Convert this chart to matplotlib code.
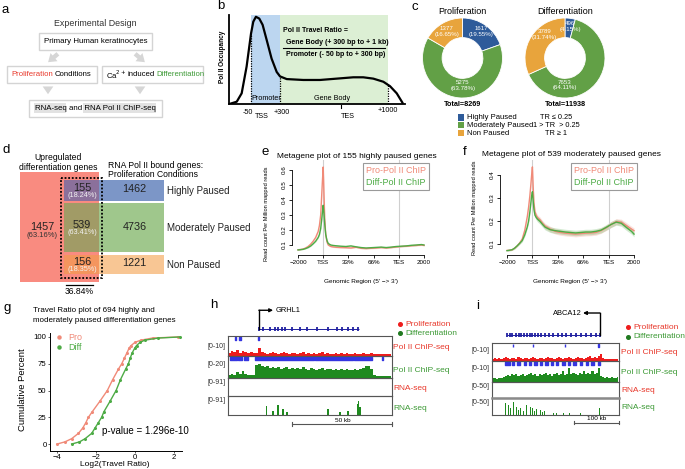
import numpy as np
import matplotlib
matplotlib.use('Agg')
import matplotlib.pyplot as plt
from matplotlib.patches import Rectangle, FancyArrowPatch

plt.rcParams['font.family'] = ['Liberation Sans', 'DejaVu Sans']

# ---------------- data ----------------
# b: schematic Pol II occupancy along a gene (arbitrary units)
occ_pos = [0.2, 4.4, 7.2, 10.0, 12.5, 13.8, 15.3, 17.2, 19.1, 21.4, 24.2, 27.1, 29.0,
           32.8, 42.2, 51.7, 61.2, 70.6, 76.3, 82.0, 87.7, 91.5, 95.3, 98.7]
occ_val = [0.0, 0.026, 0.12, 0.42, 0.79, 0.925, 0.98, 0.96, 0.89, 0.72, 0.51, 0.36, 0.31,
           0.28, 0.27, 0.27, 0.285, 0.30, 0.30, 0.285, 0.25, 0.20, 0.12, 0.01]
promoter = (12.5, 29.0)
gene_body = (29.0, 90.3)

# c: pausing classes
pause_classes = ['Highly Paused', 'Moderately Paused', 'Non Paused']
tr_rules = ['TR \u2264 0.25', '1 > TR  > 0.25', 'TR \u2265 1']
pro_counts = [1617, 5275, 1377]
pro_pct = ['19.55%', '63.78%', '16.65%']
diff_counts = [496, 7653, 3789]
diff_pct = ['4.15%', '64.11%', '31.74%']

# d: overlap of upregulated genes with Pol II bound genes
up_only = 1457
up_only_pct = '63.16%'
overlap_counts = [155, 539, 156]
overlap_pct = ['18.24%', '63.41%', '18.35%']
bound_counts = [1462, 4736, 1221]
overlap_share = '36.84%'

# e/f: metagene profiles (x: 0=-2000, 1=TSS, 2=33%, 3=66%, 4=TES, 5=+2000)
meta_labels = ['\u22122000', 'TSS', '33%', '66%', 'TES', '2000']
meta_x = [0, 0.1, 0.2, 0.3, 0.4, 0.5, 0.6, 0.7, 0.8, 0.85, 0.9, 0.94, 0.97, 1.0, 1.03,
          1.06, 1.1, 1.15, 1.2, 1.3, 1.4, 1.5, 1.7, 1.9, 2.1, 2.3, 2.5, 2.7, 2.9, 3.1,
          3.3, 3.5, 3.7, 3.9, 4.1, 4.3, 4.5, 4.7, 4.9, 5.0]
e_pro = [0.068, 0.07, 0.073, 0.08, 0.09, 0.105, 0.125, 0.15, 0.19, 0.23, 0.3, 0.43, 0.53,
         0.62, 0.45, 0.28, 0.17, 0.12, 0.1, 0.09, 0.087, 0.085, 0.083, 0.082, 0.08, 0.085,
         0.078, 0.076, 0.078, 0.08, 0.083, 0.08, 0.083, 0.087, 0.09, 0.092, 0.095, 0.097,
         0.1, 0.097]
e_diff = [0.067, 0.069, 0.071, 0.076, 0.083, 0.093, 0.108, 0.125, 0.15, 0.17, 0.21, 0.27,
          0.32, 0.365, 0.31, 0.24, 0.17, 0.13, 0.11, 0.1, 0.097, 0.095, 0.092, 0.09, 0.094,
          0.088, 0.083, 0.08, 0.082, 0.084, 0.086, 0.083, 0.086, 0.09, 0.092, 0.094, 0.098,
          0.1, 0.103, 0.1]
e_band = [0.002, 0.002, 0.002, 0.002, 0.003, 0.003, 0.004, 0.005, 0.006, 0.008, 0.01,
          0.014, 0.018, 0.02, 0.016, 0.01, 0.007, 0.005, 0.004, 0.004, 0.004, 0.004, 0.004,
          0.004, 0.004, 0.004, 0.004, 0.004, 0.004, 0.004, 0.004, 0.004, 0.004, 0.004,
          0.004, 0.004, 0.004, 0.004, 0.004, 0.004]
f_pro = [0.072, 0.073, 0.075, 0.082, 0.092, 0.105, 0.122, 0.16, 0.22, 0.26, 0.31, 0.36, 0.4,
         0.435, 0.35, 0.28, 0.24, 0.225, 0.215, 0.205, 0.19, 0.178, 0.165, 0.155, 0.15,
         0.147, 0.145, 0.143, 0.145, 0.147, 0.148, 0.15, 0.158, 0.17, 0.185, 0.197, 0.195,
         0.18, 0.165, 0.158]
f_diff = [0.071, 0.073, 0.075, 0.082, 0.092, 0.103, 0.115, 0.14, 0.175, 0.2, 0.24, 0.28,
          0.31, 0.327, 0.29, 0.25, 0.225, 0.215, 0.208, 0.198, 0.185, 0.173, 0.162, 0.158,
          0.155, 0.152, 0.15, 0.148, 0.15, 0.152, 0.152, 0.155, 0.16, 0.172, 0.185, 0.195,
          0.19, 0.172, 0.155, 0.143]
f_band = [0.003, 0.003, 0.003, 0.004, 0.004, 0.005, 0.006, 0.007, 0.008, 0.009, 0.01,
          0.01, 0.01, 0.01, 0.01, 0.01, 0.01, 0.011, 0.012, 0.012, 0.012, 0.012, 0.012,
          0.012, 0.012, 0.012, 0.012, 0.012, 0.012, 0.012, 0.012, 0.012, 0.012, 0.012,
          0.013, 0.013, 0.013, 0.013, 0.012, 0.012]

# g: cumulative travel ratio distribution
cum_pct = [0, 2, 5, 10, 15, 20, 25, 30, 40, 50, 60, 70, 75, 80, 85, 90, 92, 95, 97, 99, 100]
tr_pro = [-4.0, -3.6, -3.25, -2.9, -2.68, -2.52, -2.39, -2.2, -1.8, -1.42, -1.15, -0.85,
          -0.68, -0.55, -0.42, -0.29, -0.2, 0.0, 0.3, 0.9, 2.2]
tr_diff = [-3.25, -2.85, -2.56, -2.22, -2.05, -1.88, -1.71, -1.6, -1.28, -0.97, -0.75,
           -0.48, -0.34, -0.25, -0.15, 0.0, 0.08, 0.26, 0.5, 1.2, 2.3]
p_value = '1.296e-10'

# h: GRHL1 browser tracks (60 bins)
h_pro_chip = [1.5, 2.5, 1.8, 3, 1.5, 2.5, 2, 1.5, 2, 1.5, 1.5, 4, 2, 1.5, 1, 1.5, 2, 1.5,
              1, 1.5, 2, 1.5, 1, 1.5, 1.5, 1, 1.5, 2, 1, 1.5, 1, 1.5, 1, 1.5, 2, 1, 1.5, 1,
              1, 1.5, 1, 1.5, 1, 1.5, 1, 1, 1.5, 1, 1, 1.5, 1, 1, 1.5, 1, 1, 0.8, 1, 0.8,
              1, 0.8]
h_diff_chip = [3, 4, 3, 5, 4, 6, 4, 3, 3, 3, 12, 13, 11, 10, 11, 9, 10, 9, 10, 8, 9, 10, 8,
               9, 8, 9, 8, 10, 8, 7, 9, 8, 7, 8, 9, 7, 8, 8, 7, 8, 7, 8, 7, 8, 7, 7, 8, 7, 8,
               9, 11, 11, 8, 3, 2, 2, 1.5, 2, 1.5, 2]
h_rna_pos = [14, 16.5, 18.3, 20.1, 21.6, 36.6, 41, 43.9, 47.3, 47.8, 48.3]
h_rna_val = [41, 20, 50, 30, 14, 27, 14, 18, 55, 68, 40]
h_marks_top = [2.6, 4.4, 11.3]
h_marks_diff = [(0.7, 2.6), (3.7, 1.4), (5.9, 1.4), (9.9, 21.6), (31.8, 13.9),
                (46.0, 6.7), (56.3, 0.3)]
h_exons = [11.3, 12.8, 15.4, 17.2, 18.3, 19.8, 20.9, 23.4, 26.3, 28.9, 32.6, 36.6, 39.9,
           41.7, 43.9, 45.7, 47.6]
h_gene = (11.3, 48.0)

# i: ABCA12 browser tracks (60 bins)
i_pro_chip = [1.2, 1.5, 1.2, 1.6, 1.2, 1.5, 2, 1.5, 1.2, 1.5, 1.6, 1.2, 2, 1.5, 1.2, 1.5,
              1.6, 1.2, 1.5, 2, 1.5, 1.2, 1.5, 1.6, 1.2, 1.5, 2, 1.5, 1.6, 1.2, 1.5, 2, 1.5,
              1.2, 1.5, 1.6, 2, 1.5, 1.2, 1.5, 2, 1.5, 1.6, 1.2, 1.5, 2, 2.5, 1.5, 2, 1.5,
              2.5, 4, 1.5, 1.2, 1.2, 1, 1.2, 1, 1.2, 1]
i_diff_chip = [2, 2, 1.5, 2, 2, 2.5, 3, 3.5, 3, 4, 3.5, 4, 3, 3.5, 4, 3, 3.5, 4, 4.5, 3.5,
               4, 3, 4, 3.5, 4, 4.5, 3.5, 4, 3, 4, 4.5, 3.5, 4, 5, 3.5, 4, 6.5, 4, 4.5, 4,
               3.5, 4.5, 4, 5, 4, 4.5, 4, 5, 4, 4.5, 6.5, 3, 2.5, 2, 2.5, 2, 2.5, 2, 2, 2.5]
i_rna_pos = [6.6, 7.7, 8.6, 10.0, 11.6, 12.4, 13.5, 15.0, 16.4, 18.0, 19.2, 20.2, 21.1,
             22.7, 24.0, 25.0, 27.4, 29.0, 30.6, 33.7, 36.8, 41.6, 46.3, 50.7]
i_rna_val = [34, 30, 20, 37, 25, 15, 20, 12, 30, 25, 20, 12, 17, 15, 8, 12, 10, 6, 7, 5, 7,
             5, 4, 22]
i_pro_rna_pos = [8, 14, 20]
i_pro_rna_val = [1.5, 1.5, 1.5]
i_marks_top = [9.9, 19.4, 34.5, 50.5]
i_marks_diff = [(6, 2.5), (9.5, 1), (11.8, 1.5), (15, 1), (17.5, 1), (19.8, 1.5), (22.7, 1),
                (25, 1.5), (27.9, 1), (30.2, 1), (33, 1.5), (35.9, 1), (38.3, 1.5),
                (41.6, 1), (44.4, 1), (46.8, 1.5), (50, 1)]
i_exons = [7.1, 8.5, 9.4, 11.3, 12.8, 13.7, 15.1, 16.5, 17.9, 18.9, 20.3, 21.7, 23.1, 25.0,
           26.9, 28.8, 31.2, 33.0, 34.9, 37.3, 39.7, 42.0, 44.4, 46.8, 49.1, 51.0]
i_gene = (7.1, 51.0)

# colours
RED = '#e8382b'
GREEN = '#3d9a36'
PRO_C = '#f08a78'
DIFF_C = '#4dab45'
pause_colors = ['#2e5b9a', '#62a046', '#e8a43c']

# ---------------- layout helpers (pixel coordinates, origin top-left) ----------------
W, H = 685, 469
fig = plt.figure(figsize=(W / 100, H / 100), dpi=100)
renderer = fig.canvas.get_renderer()


def px_axes(x0, y0, x1, y1):
    ax = fig.add_axes([x0 / W, 1 - y1 / H, (x1 - x0) / W, (y1 - y0) / H])
    ax.patch.set_alpha(0)
    return ax


ov = fig.add_axes([0, 0, 1, 1], zorder=10)
ov.set_xlim(0, W)
ov.set_ylim(H, 0)
ov.axis('off')
ov.patch.set_alpha(0)


def txt(x, y, s, size=6, **kw):
    kw.setdefault('ha', 'center')
    kw.setdefault('va', 'center')
    return ov.text(x, y, s, fontsize=size, **kw)


def chain(x, y, parts, size):
    # place coloured pieces of one line one after another
    for s, c in parts:
        t = txt(x, y, s, size, ha='left', color=c)
        bb = t.get_window_extent(renderer)
        x = ov.transData.inverted().transform((bb.x1, bb.y0))[0] + 1.4


def box(x0, y0, x1, y1, ec='#d4d4d4', fc='white', lw=1.0, **kw):
    ov.add_patch(Rectangle((x0, y0), x1 - x0, y1 - y0, ec=ec, fc=fc, lw=lw, **kw))


def fat_arrow(x0, y0, x1, y1):
    ov.add_patch(FancyArrowPatch(
        (x0, y0), (x1, y1), arrowstyle='simple,head_width=1.1,head_length=0.8,tail_width=0.45',
        mutation_scale=7, color='#d6d6d6', lw=0))


for lab, x, y in [('a', 2, 10), ('b', 217, 6), ('c', 412, 7), ('d', 3, 150), ('e', 262, 152),
                  ('f', 463, 152), ('g', 4, 308), ('h', 210, 305), ('i', 476, 306)]:
    txt(x, y, lab, size=9.5, ha='left')

# ---------------- a ----------------
txt(95, 23, 'Experimental Design', 6.4, color='#333333')
box(39, 33, 152, 50)
txt(95.5, 41.5, 'Primary Human keratinocytes', 5.7)
fat_arrow(60, 52, 46, 64)
fat_arrow(133, 52, 147, 64)
box(7, 66, 97, 83)
chain(11, 74.5, [('Proliferation', RED), ('Conditions', 'black')], 5.6)
box(102, 66, 203, 83)
chain(106, 74.5, [('Ca$^{2+}$', 'black'), ('induced', 'black'), ('Differentiation', GREEN)],
      5.6)
fat_arrow(48, 84, 48, 97)
fat_arrow(140, 84, 140, 97)
box(29, 100, 162, 117)
ov.add_patch(Rectangle((34, 103.5), 32, 10, fc='#e2e2e2', ec='none'))
ov.add_patch(Rectangle((83, 103.5), 73, 10, fc='#e2e2e2', ec='none'))
txt(35, 108.5, 'RNA-seq and RNA Pol II ChIP-seq', 5.7, ha='left')

# ---------------- b ----------------
axb = px_axes(229, 15, 405, 104)
axb.axvspan(*promoter, color='#bcd6f0', lw=0)
axb.axvspan(*gene_body, color='#dcefd4', lw=0)
axb.plot(occ_pos, occ_val, color='black', lw=1.6, solid_capstyle='round')
axb.vlines([promoter[0]], 0, 0.79, color='black', lw=0.9, linestyles=(0, (1, 1)))
axb.vlines([promoter[1]], 0, 0.31, color='black', lw=0.9, linestyles=(0, (1, 1)))
axb.vlines([gene_body[1]], 0, 0.21, color='black', lw=0.9, linestyles=(0, (1, 1)))
axb.set_xlim(0, 100)
axb.set_ylim(0, 1)
axb.set_xticks([])
axb.set_yticks([])
for s in ['top', 'right']:
    axb.spines[s].set_visible(False)
for s in ['left', 'bottom']:
    axb.spines[s].set_linewidth(1.3)
txt(223, 57, 'Pol II Occupancy', 4.7, rotation=90, weight='bold')
txt(266, 98, 'Promoter', 5.2)
txt(332, 98, 'Gene Body', 5.2)
txt(248, 112, '-50', 5.2)
txt(262, 117, 'TSS', 5.2)
txt(282, 112, '+300', 5.2)
txt(348, 117, 'TES', 5.2)
ov.plot([341, 341], [105, 108.5], color='black', lw=0.8)
txt(388, 110, '+1000', 5.2)
txt(283, 30, 'Pol II Travel Ratio =', 5, ha='left', weight='bold')
txt(286, 43, 'Gene Body (+ 300 bp to + 1 kb)', 5, ha='left', weight='bold')
ov.plot([283, 385], [48.5, 48.5], color='black', lw=0.8)
txt(286, 55, 'Promoter (- 50 bp to + 300 bp)', 5, ha='left', weight='bold')

# ---------------- c ----------------
donuts = [
    (462.5, 'Proliferation', pro_counts, pro_pct,
     [(481.5, 31.5), (462.7, 85.5), (446.7, 31.5)]),
    (565, 'Differentiation', diff_counts, diff_pct,
     [(570, 26.5), (565, 85), (544.3, 34.5)]),
]
for cx, title, counts, pcts, lpos in donuts:
    ax = px_axes(cx - 40, 18, cx + 40, 98)
    ax.pie(counts, colors=pause_colors, startangle=90, counterclock=False,
           wedgeprops=dict(width=0.49, edgecolor='white', linewidth=0.6))
    ax.set_xlim(-1, 1)
    ax.set_ylim(-1, 1)
    txt(cx, 12, title, 6.5)
    txt(cx, 105, 'Total=%d' % sum(counts), 5.2, weight='bold')
    for (lx, ly), n, p in zip(lpos, counts, pcts):
        txt(lx, ly, '%d\n(%s)' % (n, p), 4.4, color='white', linespacing=1.1)

for k, (cls, rule) in enumerate(zip(pause_classes, tr_rules)):
    y = 117.5 + 7.8 * k
    ov.add_patch(Rectangle((458, y - 3.3), 6.5, 6.5, fc=pause_colors[k], ec='none'))
    txt(467, y, cls, 5.5, ha='left')
    txt(556, y, rule, 5.3)

# ---------------- d ----------------
txt(58, 157, 'Upregulated', 6.2)
txt(58, 167, 'differentiation genes', 6.2)
txt(108, 165, 'RNA Pol II bound genes:', 6.2, ha='left')
txt(108, 174.5, 'Proliferation Conditions', 6.2, ha='left')
box(20, 172, 99.5, 282, ec='none', fc='#f98b80')
rows = [(180, 201.5), (203.5, 252.5), (255, 274.5)]
box_colors = ['#7c96c7', '#9fc78c', '#f8c694']
overlap_colors = ['#8b709b', '#a19b66', '#f4955e']
for k, (y0, y1) in enumerate(rows):
    box(64, y0, 164.5, y1, ec='none', fc=box_colors[k])
    box(64, y0, 99.5, y1, ec='none', fc=overlap_colors[k])
    yc = (y0 + y1) / 2
    txt(82, yc - 3, str(overlap_counts[k]), 7.8, color='#222222')
    txt(82, yc + 4.5, '(%s)' % overlap_pct[k], 5.2, color='#f2f2f2')
    txt(134.5, yc - 1.5, str(bound_counts[k]), 7.8, color='#222222')
    txt(167, yc, pause_classes[k], 7, ha='left', color='#222222')
txt(42, 226.5, str(up_only), 7.8, color='#222222')
txt(42, 235.5, '(%s)' % up_only_pct, 5.5, color='#333333')
box(61, 178.5, 102, 278.5, ec='black', fc='none', lw=1.3, ls=(0, (1, 1)))
ov.plot([66, 93], [285, 285], color='black', lw=0.9)
txt(79.5, 292, overlap_share, 6.2)


# ---------------- e / f ----------------
def metagene(ax, pro, diff, band, ylim, yticks, xlim):
    x = np.array(meta_x)
    pro, diff, band = np.array(pro), np.array(diff), np.array(band)
    ax.axvline(1, color='#cfcfcf', lw=0.8)
    ax.axvline(4, color='#cfcfcf', lw=0.8)
    ax.fill_between(x, pro - band, pro + band, color=PRO_C, alpha=0.25, lw=0)
    ax.fill_between(x, diff - band, diff + band, color=DIFF_C, alpha=0.25, lw=0)
    ax.plot(x, pro, color=PRO_C, lw=1.0, label='Pro-Pol II ChIP')
    ax.plot(x, diff, color=DIFF_C, lw=1.0, label='Diff-Pol II ChIP')
    ax.set_xlim(*xlim)
    ax.set_ylim(*ylim)
    ax.set_xticks(range(6))
    ax.set_xticklabels(meta_labels)
    ax.set_yticks(yticks)
    ax.set_yticklabels(['%.1f' % v for v in yticks], rotation=90, va='center')
    ax.tick_params(labelsize=4.5, length=2.2, width=0.6, pad=1.5)
    for s in ['top', 'right']:
        ax.spines[s].set_visible(False)
    for s in ['left', 'bottom']:
        ax.spines[s].set_linewidth(0.6)
    ax.spines['left'].set_bounds(yticks[0], yticks[-1])
    ax.spines['bottom'].set_bounds(0, 5)
    leg = ax.legend(loc='upper right', fontsize=6.5, handlelength=0, handletextpad=0,
                    labelcolor='linecolor', fancybox=False, framealpha=1,
                    edgecolor='#9a9a9a', borderpad=0.35, borderaxespad=0.35,
                    labelspacing=0.25)
    leg.get_frame().set_linewidth(0.8)
    for h in leg.legend_handles:
        h.set_visible(False)


axe = px_axes(292, 160, 432, 255)
metagene(axe, e_pro, e_diff, e_band, (0.0333, 0.6667), [0.1, 0.2, 0.3, 0.4, 0.5, 0.6],
         (-0.238, 5.317))
txt(356.5, 156, 'Metagene plot of 155 highly paused genes', 6)
txt(267, 214, 'Read count Per Million mapped reads', 4.1, rotation=90)
txt(361, 281, "Genomic Region (5' \u2212> 3')", 4.6)

axf = px_axes(500, 160, 640, 255)
metagene(axf, f_pro, f_diff, f_band, (0.0522, 0.465), [0.1, 0.2, 0.3, 0.4],
         (-0.276, 5.236))
txt(571, 155, 'Metagene plot of 539 moderately paused genes', 6)
txt(475, 208, 'Read count Per Million mapped reads', 4.1, rotation=90)
txt(570, 281, "Genomic Region (5' \u2212> 3')", 4.6)

# ---------------- g ----------------
axg = px_axes(50, 333, 182, 451)
axg.plot(tr_pro, cum_pct, color=PRO_C, lw=1.0, marker='o', ms=1.2)
axg.plot(tr_diff, cum_pct, color=DIFF_C, lw=1.0, marker='o', ms=1.2)
axg.set_xlim(-4.36, 2.41)
axg.set_ylim(-6.5, 103.7)
axg.set_xticks([-4, -2, 0, 2])
axg.set_yticks([0, 25, 50, 75, 100])
axg.tick_params(labelsize=5.6, length=1.6, width=0.6, pad=0.8, color='#444444')
for s in ['top', 'right']:
    axg.spines[s].set_visible(False)
for s in ['left', 'bottom']:
    axg.spines[s].set_linewidth(0.7)
txt(33, 311, 'Travel Ratio plot of 694 highly and', 5.8, ha='left')
txt(33, 321, 'moderately paused differentiation genes', 5.8, ha='left')
txt(23, 390, 'Cumulative Percent', 6.8, rotation=90)
txt(115, 465, 'Log2(Travel Ratio)', 6.0)
ov.plot([59], [337], 'o', ms=2.2, color=PRO_C)
ov.plot([59], [347.5], 'o', ms=2.2, color=DIFF_C)
txt(68, 337, 'Pro', 6.5, ha='left', color=PRO_C)
txt(68, 347.5, 'Diff', 6.5, ha='left', color=DIFF_C)
txt(102, 431, 'p-value = ' + p_value, 7, ha='left')


# ---------------- h / i browser tracks ----------------
def track_axes(x0, x1, y0, y1, vmax):
    ax = px_axes(x0, y0, x1, y1)
    ax.set_xlim(0, 60)
    ax.set_ylim(0, vmax)
    ax.set_xticks([])
    ax.set_yticks([])
    for s in ax.spines.values():
        s.set_color('#555555')
        s.set_linewidth(0.8)
    return ax


def signal(ax, values, color):
    x = np.arange(len(values)) + 0.5
    ax.fill_between(x, values, step='mid', color=color, lw=0)


def spikes(ax, pos, vals, color):
    ax.bar(pos, vals, width=0.45, color=color, lw=0)


def gene_model(ax, span, exons, arrow_dir, name, line_y, top_y):
    ax.set_xlim(0, 60)
    ax.set_ylim(0, 1)
    ax.axis('off')
    ax.hlines(line_y, span[0], span[1], color='#2020a0', lw=0.7)
    ax.vlines(exons, line_y - 0.07, line_y + 0.07, color='#2020a0', lw=1.3)
    start = span[0] if arrow_dir > 0 else span[1]
    ax.plot([start, start], [line_y, top_y], color='black', lw=1.0)
    end = start + arrow_dir * (5.2 if arrow_dir > 0 else 8)
    ax.annotate('', xy=(end, top_y), xytext=(start, top_y),
                arrowprops=dict(arrowstyle='-|>', color='black', lw=1.0,
                                mutation_scale=5, shrinkA=0, shrinkB=0))
    ax.text(end + arrow_dir * 0.8, top_y, name, fontsize=5.4, va='center',
            ha='left' if arrow_dir > 0 else 'right')


# h
hx0, hx1 = 228, 392
gh = px_axes(hx0, 305, hx1, 336)
gene_model(gh, h_gene, h_exons, 1, 'GRHL1', 0.226, 0.83)
t1 = track_axes(hx0, hx1, 336, 356, 10)
signal(t1, h_pro_chip, '#ee1c1c')
t1.broken_barh([(m - 0.2, 0.4) for m in h_marks_top], (8.0, 1.5), color='#3535e0')
t2 = track_axes(hx0, hx1, 356, 378, 20)
signal(t2, h_diff_chip, '#1f8a1f')
t2.broken_barh(h_marks_diff, (16.0, 3.0), color='#3535e0')
t3 = track_axes(hx0, hx1, 378, 396, 91)
t4 = track_axes(hx0, hx1, 396, 415, 91)
spikes(t4, h_rna_pos, h_rna_val, '#1f8a1f')
for y, lab in zip([347, 364, 382, 400], ['[0-10]', '[0-20]', '[0-91]', '[0-91]']):
    txt(226, y, lab, 5, ha='right', color='#333333')
for y, lab, c in zip([347.3, 370, 389, 408],
                     ['Pol II ChIP-seq', 'Pol II ChIP-seq', 'RNA-seq', 'RNA-seq'],
                     [RED, GREEN, RED, GREEN]):
    txt(393.5, y, lab, 6, ha='left', color=c)
ov.plot([400], [324], 'o', ms=2.6, color='#ee1c1c')
ov.plot([400], [333.5], 'o', ms=2.6, color='#1f7a1f')
txt(405, 324, 'Proliferation', 6, ha='left', color=RED)
txt(405, 333.5, 'Differentiation', 6, ha='left', color=GREEN)
ov.plot([292.3, 392.3], [424.3, 424.3], color='#555555', lw=0.8)
ov.plot([292.3, 292.3], [422.5, 426], color='#555555', lw=0.8)
ov.plot([392.3, 392.3], [422.5, 426], color='#555555', lw=0.8)
txt(342.5, 420, '50 kb', 4.6)

# i
ix0, ix1 = 492, 619
gi = px_axes(ix0, 308, ix1, 343)
gene_model(gi, i_gene, i_exons, -1, 'ABCA12', 0.229, 0.857)
u1 = track_axes(ix0, ix1, 343, 361, 10)
signal(u1, i_pro_chip, '#ee1c1c')
u1.broken_barh([(m - 0.2, 0.4) for m in i_marks_top], (8.0, 1.5), color='#3535e0')
u2 = track_axes(ix0, ix1, 361, 382, 10)
signal(u2, i_diff_chip, '#1f8a1f')
u2.broken_barh(i_marks_diff, (8.0, 1.4), color='#3535e0')
u3 = track_axes(ix0, ix1, 382, 398, 50)
spikes(u3, i_pro_rna_pos, i_pro_rna_val, '#ee1c1c')
u4 = track_axes(ix0, ix1, 398, 415, 50)
u4.spines['top'].set_linewidth(1.8)
u4.spines['top'].set_color('#8a8a8a')
spikes(u4, i_rna_pos, i_rna_val, '#1f8a1f')
for y, lab in zip([351, 369, 386, 402], ['[0-10]', '[0-10]', '[0-50]', '[0-50]']):
    txt(490, y, lab, 5, ha='right', color='#333333')
for y, lab, c in zip([352.3, 372.7, 391, 407.3],
                     ['Pol II ChIP-seq', 'Pol II ChIP-seq', 'RNA-seq', 'RNA-seq'],
                     [RED, GREEN, RED, GREEN]):
    txt(621, y, lab, 6, ha='left', color=c)
ov.plot([628], [327.3], 'o', ms=2.6, color='#ee1c1c')
ov.plot([628], [336.7], 'o', ms=2.6, color='#1f7a1f')
txt(633, 327.3, 'Proliferation', 6, ha='left', color=RED)
txt(633, 336.7, 'Differentiation', 6, ha='left', color=GREEN)
ov.plot([574.3, 619.3], [422.7, 422.7], color='#555555', lw=0.8)
ov.plot([574.3, 574.3], [421, 424.5], color='#555555', lw=0.8)
ov.plot([619.3, 619.3], [421, 424.5], color='#555555', lw=0.8)
txt(597, 418.5, '100 kb', 4.6)

fig.savefig('out.png', dpi=100)
